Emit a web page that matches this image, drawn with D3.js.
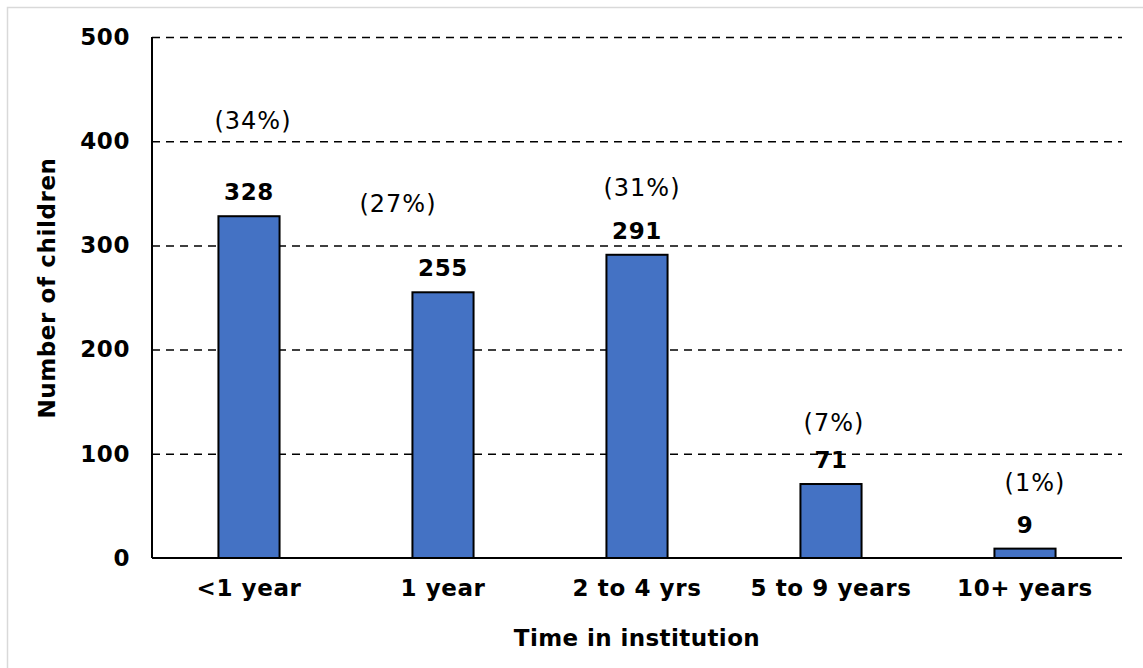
<!DOCTYPE html>
<html>
<head>
<meta charset="utf-8">
<script src="https://cdn.jsdelivr.net/npm/d3@7"></script>
<style>
  body { margin: 0; background: #fff; }
  svg { display: block; font-family: "DejaVu Sans", Verdana, sans-serif; }
  .grid line { stroke: #000; stroke-dasharray: 8 6; stroke-width: 1.5; }
  .grid .domain { display: none; }
  .bar { fill: #4472c4; stroke: #000; stroke-width: 2; }
</style>
</head>
<body>
<svg width="1143" height="668"></svg>
<script>
// data
var categories = ["<1 year", "1 year", "2 to 4 yrs", "5 to 9 years", "10+ years"];
var counts = [328, 255, 291, 71, 9];
var shares = ["(34%)", "(27%)", "(31%)", "(7%)", "(1%)"];
var yTicks = [0, 100, 200, 300, 400, 500];

// the share labels were placed by hand in the original, so nudge them
var shareAt = [420, 340, 355, 130, 72];   // height, in children
var shareShift = [4, -45, 5, 3, 10];     // px off the bar centre

var svg = d3.select("svg");

// light frame round the chart
svg.append("rect")
    .attr("x", 7.5).attr("y", 7.5)
    .attr("width", 1150).attr("height", 680)
    .attr("fill", "none")
    .attr("stroke", "#d9d9d9")
    .attr("stroke-width", 1.5);

var margin = {top: 37, left: 152, right: 21, bottom: 110},
    width = 1143 - margin.left - margin.right,
    height = 668 - margin.top - margin.bottom;

var g = svg.append("g")
    .attr("transform", "translate(" + margin.left + "," + margin.top + ")");

var x = d3.scaleBand().domain(categories).range([0, width]).paddingInner(0.685).paddingOuter(0.3425);
var y = d3.scaleLinear().domain([0, 500]).range([height, 0]);

g.append("g")
    .attr("class", "grid")
    .call(d3.axisLeft(y).tickValues(yTicks.slice(1)).tickSize(-width).tickFormat(""));

g.selectAll(".bar")
    .data(counts)
  .enter().append("rect")
    .attr("class", "bar")
    .attr("x", function(d, i) { return x(categories[i]); })
    .attr("y", function(d) { return y(d); })
    .attr("width", x.bandwidth())
    .attr("height", function(d) { return height - y(d); });

// axis lines
g.append("line").attr("x1", 0).attr("x2", 0).attr("y1", 0).attr("y2", height)
    .attr("stroke", "#000").attr("stroke-width", 2);
g.append("line").attr("x1", 0).attr("x2", width).attr("y1", height).attr("y2", height)
    .attr("stroke", "#000").attr("stroke-width", 2);

var yAxis = g.append("g")
    .call(d3.axisLeft(y).tickValues(yTicks).tickSize(0).tickPadding(22));
yAxis.select(".domain").remove();

var xAxis = g.append("g")
    .attr("transform", "translate(0," + height + ")")
    .call(d3.axisBottom(x).tickSize(0).tickPadding(22));
xAxis.select(".domain").remove();

g.selectAll(".tick text")
    .attr("font-family", "DejaVu Sans, sans-serif")
    .attr("font-size", 23)
    .attr("font-weight", "bold")
    .attr("letter-spacing", 0.6)
    .attr("fill", "#000");

g.selectAll(".val")
    .data(counts)
  .enter().append("text")
    .attr("class", "val")
    .attr("x", function(d, i) { return x(categories[i]) + x.bandwidth() / 2; })
    .attr("y", function(d) { return y(d) - 16; })
    .attr("text-anchor", "middle")
    .attr("font-size", 23)
    .attr("font-weight", "bold")
    .attr("letter-spacing", 0.6)
    .text(function(d) { return d; });

g.selectAll(".pct")
    .data(shares)
  .enter().append("text")
    .attr("class", "pct")
    .attr("x", function(d, i) { return x(categories[i]) + x.bandwidth() / 2 + shareShift[i]; })
    .attr("y", function(d, i) { return y(shareAt[i]); })
    .attr("dy", "0.35em")
    .attr("text-anchor", "middle")
    .attr("font-size", 24)
    .attr("letter-spacing", 1)
    .text(function(d) { return d; });

svg.append("text")
    .attr("x", margin.left + width / 2)
    .attr("y", 646)
    .attr("text-anchor", "middle")
    .attr("font-size", 23)
    .attr("font-weight", "bold")
    .attr("letter-spacing", 0.4)
    .text("Time in institution");

svg.append("text")
    .attr("transform", "translate(55,288) rotate(-90)")
    .attr("text-anchor", "middle")
    .attr("font-size", 23)
    .attr("font-weight", "bold")
    .attr("letter-spacing", 0.6)
    .text("Number of children");
</script>
</body>
</html>
